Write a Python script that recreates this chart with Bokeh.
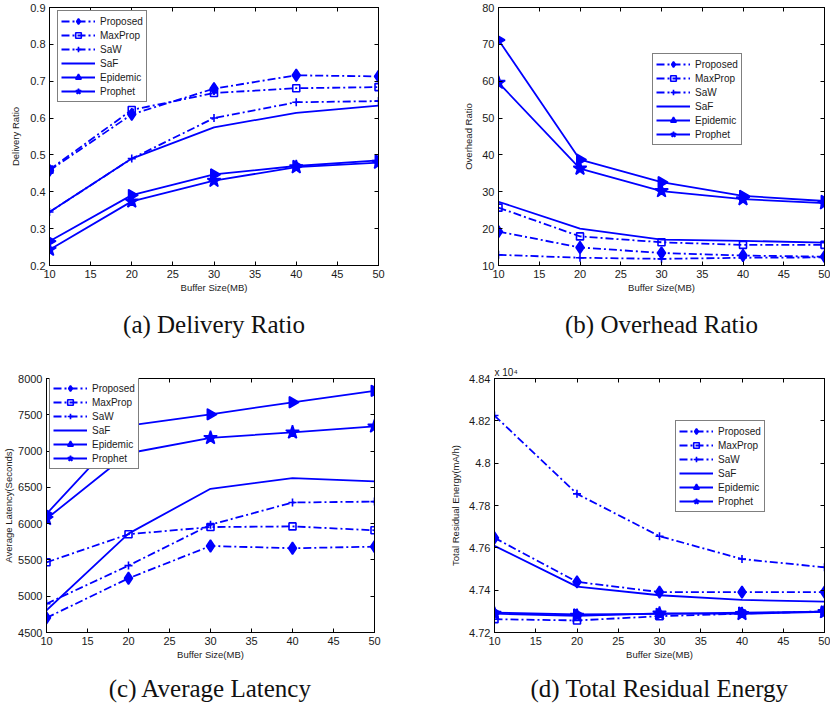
import numpy as np
from bokeh.plotting import figure
from bokeh.models import (Range1d, FixedTicker, LinearAxis, Legend, LegendItem, Title,
                          CustomLabelingPolicy)
from bokeh.layouts import column, row
from bokeh.embed import file_html
from bokeh.resources import INLINE

# ---------------- data ----------------
buffer_sizes = [10, 20, 30, 40, 50]
series_names = ["Proposed", "MaxProp", "SaW", "SaF", "Epidemic", "Prophet"]
x_ticks = [10, 15, 20, 25, 30, 35, 40, 45, 50]

# (a) Delivery Ratio
delivery_proposed = [0.458, 0.610, 0.680, 0.716, 0.713]
delivery_maxprop = [0.460, 0.622, 0.668, 0.681, 0.684]
delivery_saw = [0.345, 0.490, 0.600, 0.643, 0.646]
delivery_saf = [0.345, 0.490, 0.575, 0.614, 0.634]
delivery_epidemic = [0.266, 0.391, 0.447, 0.470, 0.485]
delivery_prophet = [0.243, 0.374, 0.430, 0.467, 0.479]
delivery_ticks = [0.2, 0.3, 0.4, 0.5, 0.6, 0.7, 0.8, 0.9]

# (b) Overhead Ratio
overhead_proposed = [19.2, 14.9, 13.4, 12.7, 12.4]
overhead_maxprop = [25.7, 17.9, 16.3, 15.6, 15.6]
overhead_saw = [12.9, 12.1, 11.8, 12.1, 12.2]
overhead_saf = [27.3, 20.0, 17.0, 16.7, 16.2]
overhead_epidemic = [71.2, 38.7, 32.6, 28.9, 27.5]
overhead_prophet = [59.6, 36.3, 30.2, 28.0, 26.9]
overhead_ticks = [10, 20, 30, 40, 50, 60, 70, 80]

# (c) Average Latency (seconds)
latency_proposed = [4702, 5247, 5692, 5661, 5683]
latency_maxprop = [5467, 5854, 5953, 5962, 5908]
latency_saw = [4896, 5422, 5985, 6291, 6304]
latency_saf = [4806, 5863, 6480, 6628, 6583]
latency_epidemic = [6134, 7350, 7506, 7672, 7830]
latency_prophet = [6066, 6970, 7182, 7258, 7340]
latency_ticks = [4500, 5000, 5500, 6000, 6500, 7000, 7500, 8000]

# (d) Total Residual Energy (x 10^4 mA/h)
energy_proposed = [4.7647, 4.7439, 4.7391, 4.7391, 4.7391]
energy_maxprop = [4.7263, 4.7257, 4.7277, 4.7289, 4.7300]
energy_saw = [4.8225, 4.7855, 4.7655, 4.7547, 4.7508]
energy_saf = [4.7609, 4.7417, 4.7376, 4.7354, 4.7346]
energy_epidemic = [4.7294, 4.7285, 4.7288, 4.7294, 4.7299]
energy_prophet = [4.7289, 4.7279, 4.7290, 4.7288, 4.7297]
energy_ticks = [4.72, 4.74, 4.76, 4.78, 4.80, 4.82, 4.84]
energy_tick_labels = ["4.72", "4.74", "4.76", "4.78", "4.8", "4.82", "4.84"]

# ---------------- styling ----------------
BLUE = "#0000ff"
FONT = "Liberation Sans"
SERIF = "Liberation Serif"
DASHDOT = "8 3 2 3"

styles = {
    "Proposed": dict(dash=DASHDOT, marker="diamond", size=12, fill=BLUE, angle=0.0),
    "MaxProp": dict(dash=DASHDOT, marker="square", size=7, fill=None, angle=0.0),
    "SaW": dict(dash=DASHDOT, marker="cross", size=8, fill=None, angle=0.0),
    "SaF": dict(dash="solid", marker=None, size=0, fill=None, angle=0.0),
    "Epidemic": dict(dash="solid", marker="triangle", size=11, fill=BLUE, angle=-np.pi / 2),
    "Prophet": dict(dash="solid", marker="star", size=14, fill=BLUE, angle=0.0),
}

NO_LABELS = "for (const i of indices) { indices.unset(i) }\nreturn indices"

LEG_GLYPH_H = 14
LEG_SPACING = 0
LEG_PAD = 3
LEG_H = 6 * LEG_GLYPH_H + 5 * LEG_SPACING + 2 * LEG_PAD


def make_panel(series, y_range, y_ticks, y_label, caption, width, height,
               border_left, border_right, border_top, border_bottom,
               legend_left, legend_top, caption_standoff, y_tick_labels=None,
               y_label_standoff=5):
    p = figure(width=width, height=height, output_backend="svg", toolbar_location=None,
               x_range=Range1d(10, 50), y_range=Range1d(*y_range),
               min_border_left=border_left, min_border_right=border_right,
               min_border_top=border_top, min_border_bottom=border_bottom)
    p.xgrid.visible = False
    p.ygrid.visible = False
    p.outline_line_color = "black"
    p.outline_line_width = 1
    p.background_fill_color = "white"
    p.border_fill_color = "white"

    for ax in (p.xaxis[0], p.yaxis[0]):
        ax.major_tick_in = 4
        ax.major_tick_out = 0
        ax.minor_tick_line_color = None
        ax.major_label_text_font = FONT
        ax.major_label_text_font_size = "11px"
        ax.major_label_text_color = "#1a1a1a"
        ax.axis_label_text_font = FONT
        ax.axis_label_text_font_size = "9.5px"
        ax.axis_label_text_font_style = "normal"
        ax.axis_label_text_color = "#1a1a1a"
        ax.axis_line_color = "black"
        ax.major_tick_line_color = "black"
        ax.major_label_standoff = 4
    p.xaxis[0].ticker = FixedTicker(ticks=x_ticks)
    p.yaxis[0].ticker = FixedTicker(ticks=y_ticks)
    p.xaxis[0].axis_label = "Buffer Size(MB)"
    p.xaxis[0].axis_label_standoff = 1
    p.yaxis[0].axis_label = y_label
    p.yaxis[0].axis_label_standoff = y_label_standoff
    if y_tick_labels is not None:
        p.yaxis[0].major_label_overrides = {t: l for t, l in zip(y_ticks, y_tick_labels)}

    # box ticks on top and right (no labels, no space taken)
    for loc, ticks in (("above", x_ticks), ("right", y_ticks)):
        ax = LinearAxis(ticker=FixedTicker(ticks=ticks), major_tick_in=4, major_tick_out=0,
                        minor_tick_line_color=None, major_label_standoff=0,
                        major_label_text_font_size="0px",
                        major_label_policy=CustomLabelingPolicy(code=NO_LABELS),
                        axis_line_color="black")
        p.add_layout(ax, loc)

    items = []
    for name, ys in zip(series_names, series):
        st = styles[name]
        rends = []
        ln = p.line(buffer_sizes, ys, line_color=BLUE, line_width=1.8, line_dash=st["dash"])
        rends.append(ln)
        if st["marker"] is not None:
            sc = p.scatter(buffer_sizes, ys, marker=st["marker"], size=st["size"],
                           line_color=BLUE, line_width=1.6,
                           fill_color=st["fill"], angle=st["angle"])
            rends.append(sc)
        items.append(LegendItem(label=name, renderers=rends))

    frame_h = height - border_top - border_bottom
    legend = Legend(items=items, location=(legend_left, frame_h - legend_top - LEG_H),
                    margin=0, padding=LEG_PAD, spacing=LEG_SPACING,
                    glyph_height=LEG_GLYPH_H, glyph_width=34, label_height=LEG_GLYPH_H,
                    label_standoff=5,
                    label_text_font=FONT, label_text_font_size="10px",
                    label_text_color="#1a1a1a",
                    border_line_color="black", border_line_width=1,
                    background_fill_color="white", background_fill_alpha=1.0)
    p.add_layout(legend, "center")

    t = Title(text=caption, align="center", text_font=SERIF, text_font_size="25px",
              text_font_style="normal", text_color="#111111", standoff=caption_standoff)
    p.add_layout(t, "below")
    return p


W = 415
H1 = 350
H2 = 361

pa = make_panel([delivery_proposed, delivery_maxprop, delivery_saw, delivery_saf,
                 delivery_epidemic, delivery_prophet],
                (0.2, 0.9), delivery_ticks, "Delivery Ratio", "(a) Delivery Ratio",
                W, H1, 49, 37, 7, 85, 8, 5, 26, y_label_standoff=6)

pb = make_panel([overhead_proposed, overhead_maxprop, overhead_saw, overhead_saf,
                 overhead_epidemic, overhead_prophet],
                (10, 80), overhead_ticks, "Overhead Ratio", "(b) Overhead Ratio",
                W, H1, 83, 6, 7, 85, 154, 48, 26, y_label_standoff=5)

pc = make_panel([latency_proposed, latency_maxprop, latency_saw, latency_saf,
                 latency_epidemic, latency_prophet],
                (4500, 8000), latency_ticks, "Average Latency(Seconds)", "(c) Average Latency",
                W, H2, 44, 41, 28, 79, 3, 1, 20, y_label_standoff=1)

pd_ = make_panel([energy_proposed, energy_maxprop, energy_saw, energy_saf,
                  energy_epidemic, energy_prophet],
                 (4.72, 4.84), energy_ticks, "Total Residual Energy(mA/h)",
                 "(d) Total Residual Energy",
                 W, H2, 79, 6, 28, 79, 181, 44, 20,
                 y_tick_labels=energy_tick_labels, y_label_standoff=5)

# scale factor note above panel (d)
pd_.add_layout(Title(text="x 10\u2074", align="left", text_font=FONT, text_font_size="10px",
                     text_font_style="normal", text_color="#1a1a1a", standoff=1), "above")

layout = column(row(pa, pb), row(pc, pd_))

with open("out.html", "w") as f:
    f.write(file_html(layout, INLINE))
